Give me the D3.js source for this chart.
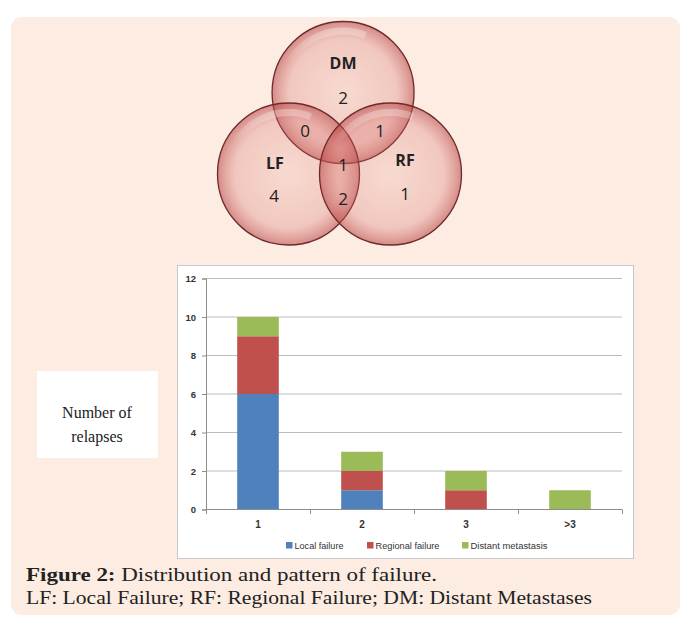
<!DOCTYPE html>
<html><head><meta charset="utf-8">
<script src="https://cdn.jsdelivr.net/npm/d3@7"></script>
<style>body{margin:0;background:#fff}svg{display:block}</style>
</head><body>
<svg id="c" width="685" height="624"></svg>
<script>
// ---- data ----
const categories = ["1", "2", "3", ">3"];
const localFailure = [6, 1, 0, 0];
const regionalFailure = [3, 1, 1, 0];
const distantMetastasis = [1, 1, 1, 1];
const seriesNames = ["Local failure", "Regional failure", "Distant metastasis"];
const seriesColors = ["#4f81bd", "#c0504d", "#9bbb59"];
const yTicks = [0, 2, 4, 6, 8, 10, 12];
const vennSets = ["DM", "LF", "RF"];
const vennOnly = [2, 4, 1];          // DM only, LF only, RF only
const vennPairs = [0, 1, 2];         // DM&LF, DM&RF, LF&RF
const vennAll = [1];

const svg = d3.select("#c");
// panel
svg.append("rect").attr("x",11).attr("y",17).attr("width",669).attr("height",598)
  .attr("rx",11).attr("fill","#fcece1");

// ---- Venn ----
const defs = svg.append("defs");
const g = defs.append("radialGradient").attr("id","vg").attr("cx","50%").attr("cy","50%").attr("r","50%");
g.append("stop").attr("offset","0%").attr("stop-color","#e07a78").attr("stop-opacity",0.16);
g.append("stop").attr("offset","75%").attr("stop-color","#d46a68").attr("stop-opacity",0.28);
g.append("stop").attr("offset","100%").attr("stop-color","#b84545").attr("stop-opacity",0.58);
const hl = defs.append("linearGradient").attr("id","hl").attr("x1","0").attr("y1","0").attr("x2","0").attr("y2","1");
hl.append("stop").attr("offset","0%").attr("stop-color","#fff").attr("stop-opacity",0.55);
hl.append("stop").attr("offset","100%").attr("stop-color","#fff").attr("stop-opacity",0);

const r = 71;
const vx = d3.scaleLinear().domain([0,1]).range([288.5,390.5]);
const centers = [[0.535,92.5],[0,174],[1,174]];
const vg = svg.append("g");
centers.forEach(c=>{
  vg.append("circle").attr("cx",vx(c[0])).attr("cy",c[1]).attr("r",r)
    .attr("fill","url(#vg)").attr("stroke","#6e2a2a").attr("stroke-width",1.3);
});
centers.forEach(c=>{
  const cx=vx(c[0]), cy=c[1];
  const a0=-2.6,a1=-1.2, rr=r-6;
  const p=d3.path();
  p.arc(cx,cy,rr,a0,a1);
  p.arc(cx,cy,rr-7,a1,a0,true);
  p.closePath();
  vg.append("path").attr("d",p.toString()).attr("fill","url(#hl)").attr("opacity",0.6);
});
const vfont = "'Open Sans', 'Liberation Sans', sans-serif";
const vtext = (x,y,t,bold)=>svg.append("text").attr("x",x).attr("y",y).attr("text-anchor","middle")
  .attr("dominant-baseline","central").attr("font-family",vfont).attr("font-size",bold?16:17)
  .attr("font-weight",bold?"bold":"normal").attr("fill","#222").text(t);
vtext(343,63,vennSets[0],true);
vtext(275,163,vennSets[1],true);
vtext(405,160,vennSets[2],true);
vtext(343,97,vennOnly[0]);
vtext(274,195,vennOnly[1]);
vtext(405,193,vennOnly[2]);
vtext(305,130,vennPairs[0]);
vtext(380,130,vennPairs[1]);
vtext(343,198,vennPairs[2]);
vtext(343,164,vennAll[0]);

// ---- bar chart ----
svg.append("rect").attr("x",177.5).attr("y",265.5).attr("width",456).attr("height",293)
  .attr("fill","#fff").attr("stroke","#c8c8c8").attr("stroke-width",1);
const x = d3.scaleBand().domain(categories).range([206,622]).paddingInner(0.6).paddingOuter(0.3);
const y = d3.scaleLinear().domain([0,12]).range([509.5,278.5]);
const cfont = "'Liberation Sans', Arial, sans-serif";
// grid
svg.append("g").selectAll("line").data(yTicks.filter(d=>d>0)).join("line")
  .attr("x1",206).attr("x2",622).attr("y1",d=>y(d)).attr("y2",d=>y(d))
  .attr("stroke","#bcbcbc").attr("stroke-width",1);
const stackData = categories.map((c,i)=>({cat:c, s0:localFailure[i], s1:regionalFailure[i], s2:distantMetastasis[i]}));
const stack = d3.stack().keys(["s0","s1","s2"])(stackData);
svg.append("g").selectAll("g").data(stack).join("g").attr("fill",(d,i)=>seriesColors[i])
  .selectAll("rect").data(d=>d).join("rect")
  .attr("x",d=>x(d.data.cat)).attr("width",x.bandwidth())
  .attr("y",d=>y(d[1])).attr("height",d=>y(d[0])-y(d[1]));
// axes
const ya = svg.append("g").attr("transform","translate(206,0)")
  .call(d3.axisLeft(y).tickValues(yTicks).tickSize(4).tickPadding(6));
ya.select(".domain").attr("stroke","#8c8c8c");
ya.selectAll(".tick line").attr("stroke","#8c8c8c");
ya.selectAll("text").attr("font-family",cfont).attr("font-size",9.5).attr("font-weight","bold").attr("fill","#333");
const xScaleEdge = d3.scaleLinear().domain([0,4]).range([206,622]);
svg.append("line").attr("x1",206).attr("x2",622).attr("y1",509.5).attr("y2",509.5).attr("stroke","#8c8c8c");
svg.append("g").selectAll("line").data([0,1,2,3,4]).join("line")
  .attr("x1",d=>xScaleEdge(d)+0.5).attr("x2",d=>xScaleEdge(d)+0.5).attr("y1",509.5).attr("y2",514)
  .attr("stroke","#8c8c8c");
svg.append("g").selectAll("text").data(categories).join("text")
  .attr("x",d=>x(d)+x.bandwidth()/2).attr("y",528).attr("text-anchor","middle")
  .attr("font-family",cfont).attr("font-size",10).attr("font-weight","bold").attr("fill","#333").text(d=>d);
// legend
const legX = [286, 367, 462];
const legW = [49, 64, 77];
const lg = svg.append("g");
seriesNames.forEach((n,i)=>{
  lg.append("rect").attr("x",legX[i]).attr("y",542).attr("width",6.5).attr("height",6.5).attr("fill",seriesColors[i]);
  lg.append("text").attr("x",legX[i]+8.5).attr("y",548.8).attr("font-family",cfont).attr("font-size",8.5)
    .attr("textLength",legW[i]).attr("lengthAdjust","spacingAndGlyphs")
    .attr("fill","#333").text(n);
});

// ---- y label box ----
svg.append("rect").attr("x",37).attr("y",371).attr("width",121).attr("height",87).attr("fill","#fff");
const sfont = "'Liberation Serif', 'DejaVu Serif', serif";
svg.append("text").attr("x",97).attr("y",418).attr("text-anchor","middle").attr("font-family",sfont)
  .attr("font-size",16).attr("fill","#222").text("Number of");
svg.append("text").attr("x",97).attr("y",442).attr("text-anchor","middle").attr("font-family",sfont)
  .attr("font-size",16).attr("fill","#222").text("relapses");

// ---- caption ----
const cap1 = svg.append("text").attr("x",26).attr("y",581).attr("font-family",sfont).attr("font-size",18).attr("fill","#222");
cap1.append("tspan").attr("font-weight","bold").text("Figure 2:");
cap1.append("tspan").text(" Distribution and pattern of failure.");
cap1.attr("textLength",411).attr("lengthAdjust","spacingAndGlyphs");
svg.append("text").attr("x",26).attr("y",604).attr("font-family",sfont).attr("font-size",18).attr("fill","#222")
  .attr("textLength",566).attr("lengthAdjust","spacingAndGlyphs")
  .text("LF: Local Failure; RF: Regional Failure; DM: Distant Metastases");
</script>
</body></html>
